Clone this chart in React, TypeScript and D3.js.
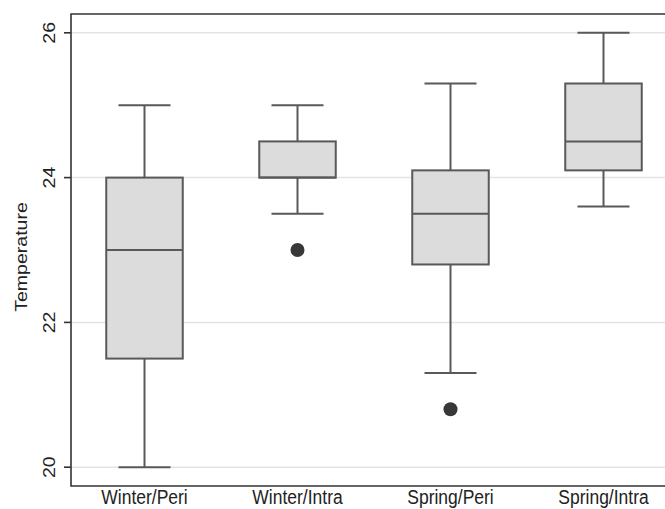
import React, { useEffect, useRef } from 'react';
import * as d3 from 'd3';

// Box summaries
const categories = ['Winter/Peri', 'Winter/Intra', 'Spring/Peri', 'Spring/Intra'];
const whiskerLow = [20, 23.5, 21.3, 23.6];
const q1 = [21.5, 24, 22.8, 24.1];
const median = [23, 24, 23.5, 24.5];
const q3 = [24, 24.5, 24.1, 25.3];
const whiskerHigh = [25, 25, 25.3, 26];
const outliers: [string, number][] = [
  ['Winter/Intra', 23],
  ['Spring/Peri', 20.8],
];
const yTicks = [20, 22, 24, 26];

const W = 665;
const H = 509;

const App: React.FC = () => {
  const svgRef = useRef<SVGSVGElement>(null);

  useEffect(() => {
    if (!svgRef.current) return;
    const svg = d3.select(svgRef.current);
    svg.selectAll('*').remove();

    const left = 71;
    const top = 14;
    const bottom = 486;
    const right = 680;

    const y = d3.scaleLinear().domain([19.74, 26.26]).range([bottom, top]);
    const x = d3.scaleBand<string>()
      .domain(categories)
      .range([68, 680])
      .paddingInner(0.5)
      .paddingOuter(0.25);
    const bw = x.bandwidth();
    const cx = (c: string) => (x(c) ?? 0) + bw / 2;

    const font = 'Liberation Sans, Arial, Helvetica, sans-serif';
    const boxStroke = '#595959';
    // the source image is a bit stretched vertically, text included
    const stretch = 1.15;

    // gridlines
    svg.append('g')
      .selectAll('line')
      .data(yTicks)
      .join('line')
      .attr('x1', left)
      .attr('x2', right)
      .attr('y1', d => y(d))
      .attr('y2', d => y(d))
      .attr('stroke', '#e3e3e3')
      .attr('stroke-width', 1.5);

    // boxes
    const g = svg.append('g')
      .selectAll('g')
      .data(categories)
      .join('g');

    g.append('line')
      .attr('x1', d => cx(d))
      .attr('x2', d => cx(d))
      .attr('y1', (d, i) => y(whiskerHigh[i]))
      .attr('y2', (d, i) => y(q3[i]))
      .attr('stroke', boxStroke)
      .attr('stroke-width', 2);

    g.append('line')
      .attr('x1', d => cx(d))
      .attr('x2', d => cx(d))
      .attr('y1', (d, i) => y(q1[i]))
      .attr('y2', (d, i) => y(whiskerLow[i]))
      .attr('stroke', boxStroke)
      .attr('stroke-width', 2);

    [whiskerHigh, whiskerLow].forEach(arr => {
      g.append('line')
        .attr('x1', d => cx(d) - bw * 0.34)
        .attr('x2', d => cx(d) + bw * 0.34)
        .attr('y1', (d, i) => y(arr[i]))
        .attr('y2', (d, i) => y(arr[i]))
        .attr('stroke', boxStroke)
        .attr('stroke-width', 2);
    });

    g.append('rect')
      .attr('x', d => x(d) ?? 0)
      .attr('width', bw)
      .attr('y', (d, i) => y(q3[i]))
      .attr('height', (d, i) => y(q1[i]) - y(q3[i]))
      .attr('fill', '#dcdcdc')
      .attr('stroke', boxStroke)
      .attr('stroke-width', 2);

    g.append('line')
      .attr('x1', d => x(d) ?? 0)
      .attr('x2', d => (x(d) ?? 0) + bw)
      .attr('y1', (d, i) => y(median[i]))
      .attr('y2', (d, i) => y(median[i]))
      .attr('stroke', boxStroke)
      .attr('stroke-width', 2);

    // outliers
    svg.append('g')
      .selectAll('circle')
      .data(outliers)
      .join('circle')
      .attr('cx', d => cx(d[0]))
      .attr('cy', d => y(d[1]))
      .attr('r', 7)
      .attr('fill', '#383838');

    // frame
    svg.append('path')
      .attr('d', `M${right},${top}H${left}V${bottom}H${right}`)
      .attr('fill', 'none')
      .attr('stroke', '#333')
      .attr('stroke-width', 1.6);

    // y ticks
    const yt = svg.append('g');
    yt.selectAll('line')
      .data(yTicks)
      .join('line')
      .attr('x1', left - 7)
      .attr('x2', left)
      .attr('y1', d => y(d))
      .attr('y2', d => y(d))
      .attr('stroke', '#333')
      .attr('stroke-width', 1.6);
    yt.selectAll('text')
      .data(yTicks)
      .join('text')
      .attr('transform', d => `translate(55,${y(d)}) rotate(-90) scale(${stretch},1)`)
      .attr('text-anchor', 'middle')
      .style('font-family', font)
      .style('font-size', '17px')
      .style('fill', '#222')
      .text(d => d);

    svg.append('text')
      .attr('transform', `translate(27,257) rotate(-90) scale(${stretch},1)`)
      .attr('text-anchor', 'middle')
      .style('font-family', font)
      .style('font-size', '17px')
      .style('fill', '#222')
      .text('Temperature');

    // x labels
    svg.append('g')
      .selectAll('text')
      .data(categories)
      .join('text')
      .attr('transform', d => `translate(${cx(d)},503.5) scale(1,${stretch})`)
      .attr('text-anchor', 'middle')
      .style('font-family', font)
      .style('font-size', '17.5px')
      .style('fill', '#222')
      .text(d => d);
  }, []);

  return (
    <svg
      ref={svgRef}
      width={W}
      height={H}
      style={{ position: 'absolute', left: 0, top: 0, background: '#fff', display: 'block' }}
    />
  );
};

export default App;
